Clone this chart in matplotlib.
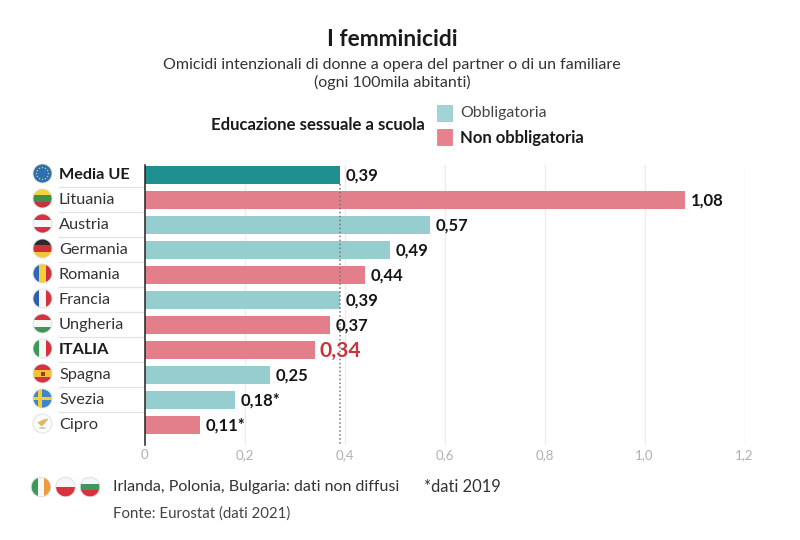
import matplotlib
matplotlib.use("Agg")
import matplotlib.pyplot as plt
from matplotlib.patches import Circle, Rectangle, Polygon, Ellipse
import numpy as np

plt.rcParams['font.family'] = ['Lato', 'DejaVu Sans']

countries = ["Media UE", "Lituania", "Austria", "Germania", "Romania", "Francia",
             "Ungheria", "ITALIA", "Spagna", "Svezia", "Cipro"]
values = [0.39, 1.08, 0.57, 0.49, 0.44, 0.39, 0.37, 0.34, 0.25, 0.18, 0.11]
labels = ["0,39", "1,08", "0,57", "0,49", "0,44", "0,39", "0,37", "0,34", "0,25", "0,18*", "0,11*"]
status = ["media", "non", "obb", "obb", "non", "obb", "non", "non", "obb", "obb", "non"]
colors = {"media": "#1f8f8f", "obb": "#96cdce", "non": "#e27f8b"}
xticks = [0, 0.2, 0.4, 0.6, 0.8, 1.0, 1.2]
xticklabels = ["0", "0,2", "0,4", "0,6", "0,8", "1,0", "1,2"]

flag_stripes = {
    "Lituania": ("h", ["#f2d43a", "#3f8f4f", "#c8323c"]),
    "Austria": ("h", ["#d6323f", "#f7f7f7", "#d6323f"]),
    "Germania": ("h", ["#2a2a2a", "#d0303a", "#f2c53a"]),
    "Romania": ("v", ["#2f68b5", "#f3cf3a", "#d0303a"]),
    "Francia": ("v", ["#2f5fb0", "#f7f7f7", "#d6323f"]),
    "Ungheria": ("h", ["#d6323f", "#f7f7f7", "#45935a"]),
    "ITALIA": ("v", ["#3c9a58", "#f7f7f7", "#d6323f"]),
    "Spagna": ("h", ["#d6323f", "#f4c23a", "#d6323f"]),
    "Irlanda": ("v", ["#3c9a58", "#f7f7f7", "#ef9b3c"]),
    "Polonia": ("h", ["#f5f5f5", "#d8323f"]),
    "Bulgaria": ("h", ["#f5f5f5", "#3c9a58", "#d8323f"]),
}

W, H = 800, 540
fig = plt.figure(figsize=(W / 100, H / 100), dpi=100, facecolor="white")

bg = fig.add_axes([0, 0, 1, 1], zorder=0)
bg.set_xlim(0, W)
bg.set_ylim(H, 0)
bg.axis("off")

x0, x1, top, bottom = 144.5, 744.5, 165, 445
base = 174.9
ax = fig.add_axes([x0 / W, 1 - bottom / H, (x1 - x0) / W, (bottom - top) / H], zorder=1)
ax.patch.set_alpha(0)
ax.set_xlim(0, 1.2)
ax.set_ylim((bottom - base) / 25, (top - base) / 25)
ax.barh(range(len(values)), values, height=0.74,
        color=[colors[s] for s in status], zorder=2)
for s in ["top", "right", "bottom"]:
    ax.spines[s].set_visible(False)
ax.spines["left"].set_color("#222222")
ax.spines["left"].set_linewidth(1.1)
ax.spines["left"].set_zorder(4)
ax.set_yticks([])
ax.set_xticks(xticks)
ax.set_xticklabels(xticklabels, fontsize=9.5, color="#b0b0b0")
ax.tick_params(axis="x", length=0, pad=3)
ax.grid(axis="x", color="#ececec", lw=1, zorder=0)
ax.set_axisbelow(True)
ax.xaxis.get_gridlines()[0].set_visible(False)
ax.plot([values[0], values[0]], [0.38, (bottom - base) / 25], color="#777777",
        lw=1.1, ls=(0, (1, 1.6)), zorder=3, solid_capstyle="butt")

for i, (v, lab) in enumerate(zip(values, labels)):
    if countries[i] == "ITALIA":
        ax.text(v + 0.01, i + 0.03, lab, va="center", ha="left", fontsize=15.2,
                color="#c8333c", fontweight="bold", zorder=5, clip_on=False)
    else:
        ax.text(v + 0.012, i + 0.04, lab, va="center", ha="left", fontsize=12,
                color="#151515", fontweight="bold", zorder=5, clip_on=False)


def flag(cx, cy, r, name):
    clip = Circle((cx, cy), r, transform=bg.transData)
    arts = []
    if name in flag_stripes:
        kind, cols = flag_stripes[name]
        n = len(cols)
        for k, c in enumerate(cols):
            if kind == "h":
                arts.append(Rectangle((cx - r, cy - r + 2 * r * k / n), 2 * r, 2 * r / n, fc=c, lw=0))
            else:
                arts.append(Rectangle((cx - r + 2 * r * k / n, cy - r), 2 * r / n, 2 * r, fc=c, lw=0))
    elif name == "Media UE":
        arts.append(Rectangle((cx - r, cy - r), 2 * r, 2 * r, fc="#2f6fb0", lw=0))
        for a in np.arange(0, 360, 30):
            arts.append(Circle((cx + 0.62 * r * np.cos(np.radians(a)),
                                cy + 0.62 * r * np.sin(np.radians(a))), 0.7, fc="#c9d36a", lw=0))
    elif name == "Svezia":
        arts.append(Rectangle((cx - r, cy - r), 2 * r, 2 * r, fc="#3f86c6", lw=0))
        arts.append(Rectangle((cx - r, cy - 1.6), 2 * r, 3.2, fc="#f2cf3a", lw=0))
        arts.append(Rectangle((cx - 4.2, cy - r), 3.2, 2 * r, fc="#f2cf3a", lw=0))
    elif name == "Cipro":
        arts.append(Rectangle((cx - r, cy - r), 2 * r, 2 * r, fc="#fbfbfb", lw=0))
        arts.append(Polygon([(cx - 5, cy - 1), (cx + 1, cy - 4), (cx + 6, cy - 5),
                             (cx + 2, cy + 0.5), (cx - 1, cy + 3)], fc="#e2b565", lw=0))
        arts.append(Ellipse((cx, cy + 4.5), 7, 1.5, fc="#a9c8a0", lw=0))
    for art in arts:
        bg.add_patch(art)
        art.set_clip_path(clip)
    if name == "Spagna":
        bg.add_patch(Rectangle((cx - 2, cy - 2), 4, 4, fc="#9c3a2a", lw=0))
    bg.add_patch(Circle((cx, cy), r, fc="none", ec="#dddddd", lw=0.6))


for i, name in enumerate(countries):
    y = 173.5 + 25 * i
    flag(42.5, y, 9.5, name)
    bold = name in ("Media UE", "ITALIA")
    bg.text(59, y + 1.5, name, va="center", ha="left", fontsize=11.7,
            color="#1a1a1a" if bold else "#333333", fontweight="bold" if bold else "normal")
    if i < len(countries) - 1:
        bg.plot([59, 144], [y + 13.3, y + 13.3], color="#e2e2e2", lw=0.9)

bg.text(392, 40, "I femminicidi", ha="center", va="center", fontsize=16.4,
        fontweight="bold", color="#1a1a1a")
bg.text(392, 64.5, "Omicidi intenzionali di donne a opera del partner o di un familiare",
        ha="center", va="center", fontsize=11.5, color="#333333")
bg.text(392, 82.5, "(ogni 100mila abitanti)", ha="center", va="center", fontsize=11.5, color="#333333")

bg.text(425, 125, "Educazione sessuale a scuola", ha="right", va="center", fontsize=12.1,
        fontweight="bold", color="#1a1a1a")
bg.add_patch(Rectangle((437, 104.7), 15, 16, fc="#a3d3d8", ec="#8fc4c8", lw=0.5))
bg.add_patch(Rectangle((437, 129), 15, 15.5, fc="#e8808d", ec="#d87480", lw=0.5))
bg.text(460, 113, "Obbligatoria", va="center", ha="left", fontsize=11.4, color="#444444")
bg.text(460, 138, "Non obbligatoria", va="center", ha="left", fontsize=12,
        fontweight="bold", color="#1a1a1a")

for cx, name in [(41, "Irlanda"), (65.5, "Polonia"), (90, "Bulgaria")]:
    flag(cx, 487, 9.8, name)
bg.text(113, 487.5, "Irlanda, Polonia, Bulgaria: dati non diffusi", va="center", ha="left",
        fontsize=11.5, color="#333333")
bg.text(424, 487.5, "*dati 2019", va="center", ha="left", fontsize=11.9, color="#333333")
bg.text(113, 514, "Fonte: Eurostat (dati 2021)", va="center", ha="left", fontsize=10.8, color="#444444")

fig.savefig("out.png", dpi=100, facecolor="white")
